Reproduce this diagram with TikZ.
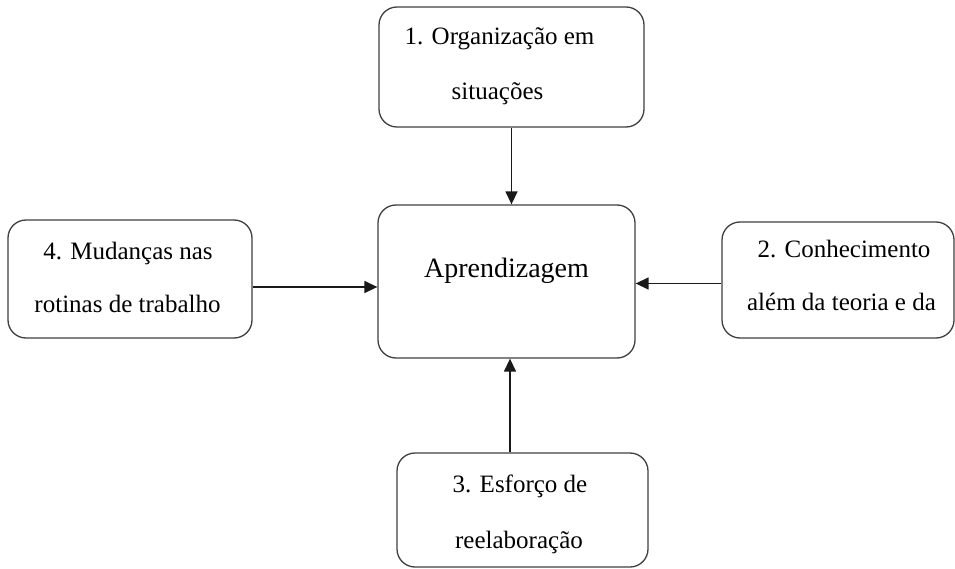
\documentclass[tikz,border=0pt]{standalone}
\usepackage{fontspec}
\setmainfont{Liberation Serif}
\usetikzlibrary{arrows.meta}
\begin{document}
\begin{tikzpicture}[x=1pt,y=-1pt,
  box/.style={draw=black!75,line width=1.3pt,rounded corners=18pt,rectangle,inner sep=0pt},
  txt/.style={anchor=base,inner sep=0pt,font=\rmfamily\fontsize{25}{30}\selectfont},
  bigtxt/.style={anchor=base,inner sep=0pt,font=\rmfamily\fontsize{28}{34}\selectfont},
  arr/.style={draw=black!90,line width=1.4pt,-{Triangle[length=13pt,width=12pt]}}]
\useasboundingbox[fill=white] (0,0) rectangle (955,569);
% boxes
\node[box,minimum width=265pt,minimum height=120pt] (b1) at (511.5,67) {};
\node[box,minimum width=257pt,minimum height=153pt] (c) at (506.5,281.5) {};
\node[box,minimum width=232pt,minimum height=116pt] (b2) at (838,280) {};
\node[box,minimum width=251pt,minimum height=114pt] (b3) at (522.5,510) {};
\node[box,minimum width=244pt,minimum height=118pt] (b4) at (130,279) {};
% texts
\node[txt] (t1a) at (499.5,45) {1. Organização em};
\node[txt] (t1b) at (497.5,100) {situações};
\node[bigtxt] (tc) at (506.5,277) {Aprendizagem};
\node[txt] (t2a) at (844,258) {2. Conhecimento};
\node[txt] (t2b) at (841.5,310) {além da teoria e da};
\node[txt] (t3a) at (520,492) {3. Esforço de};
\node[txt] (t3b) at (519,548) {reelaboração};
\node[txt] (t4a) at (128,260) {4. Mudanças nas};
\node[txt] (t4b) at (127.5,312) {rotinas de trabalho};
% connectors
\draw[arr] ([yshift=-8pt]b4.east) -- ([yshift=-8pt]b4.east -| c.west);
\draw[arr] ([yshift=-3.5pt]b2.west) -- ([yshift=-3.5pt]b2.west -| c.east);
\draw[arr] (b1.south) -- (b1.south |- c.north);
\draw[arr] ([xshift=-12.5pt]b3.north) -- ([xshift=-12.5pt]b3.north |- c.south);
\end{tikzpicture}
\end{document}
